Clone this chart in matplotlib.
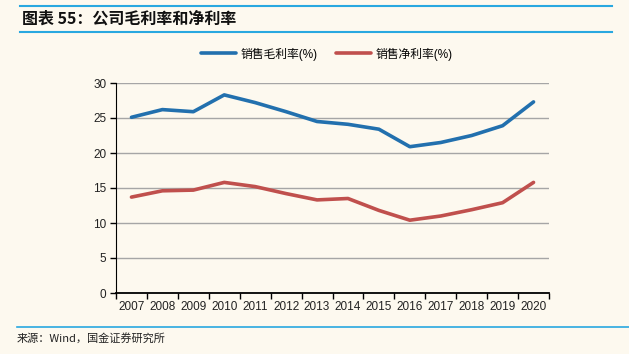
import matplotlib
matplotlib.use("Agg")
import matplotlib.pyplot as plt
import numpy as np

plt.rcParams['font.family'] = ['Liberation Sans', 'Noto Sans CJK SC', 'DejaVu Sans']

years = ['2007', '2008', '2009', '2010', '2011', '2012', '2013', '2014',
         '2015', '2016', '2017', '2018', '2019', '2020']
gross_margin = [25.1, 26.2, 25.9, 28.3, 27.2, 25.9, 24.5, 24.1, 23.4, 20.9, 21.5, 22.5, 23.9, 27.3]
net_margin = [13.7, 14.6, 14.7, 15.8, 15.2, 14.2, 13.3, 13.5, 11.8, 10.4, 11.0, 11.9, 12.9, 15.8]
series_names = ['销售毛利率(%)', '销售净利率(%)']
title = '图表 55：公司毛利率和净利率'
source = '来源：Wind，国金证券研究所'

bg = '#FDF9EF'
W, H = 629, 354
fig = plt.figure(figsize=(W / 100, H / 100), dpi=100, facecolor=bg)

ax = fig.add_axes([116 / W, 1 - 293 / H, (549 - 116) / W, (293 - 83) / H], facecolor=bg)
x = np.arange(len(years))
l1, = ax.plot(x, gross_margin, color='#2270AE', lw=2.6, solid_capstyle='round')
l2, = ax.plot(x, net_margin, color='#C0504D', lw=2.6, solid_capstyle='round')

ax.set_xlim(-0.5, len(years) - 0.5)
ax.set_ylim(0, 30)
ax.set_yticks(range(0, 31, 5))
ax.yaxis.grid(True, color='#A6A6A6', lw=1)
ax.set_axisbelow(True)
ax.set_xticks(x)
ax.set_xticklabels(years, fontsize=8.5, color='#222222')
ax.set_xticks(np.arange(-0.5, len(years), 1), minor=True)
ax.tick_params(axis='x', which='major', length=0, pad=6)
ax.tick_params(axis='x', which='minor', length=4, width=1, direction='out')
ax.tick_params(axis='y', length=4, width=1, direction='out', labelsize=8.5, labelcolor='#222222', pad=3)
for s in ['top', 'right']:
    ax.spines[s].set_visible(False)
ax.spines['left'].set_color('black')
ax.spines['bottom'].set_color('black')
ax.spines['bottom'].set_linewidth(1.3)

leg = fig.legend([l1, l2], series_names, loc='center', bbox_to_anchor=(327 / W, 1 - 54 / H),
                 ncol=2, frameon=False, handlelength=2.9, columnspacing=1.6,
                 handletextpad=0.4,
                 prop={'family': ['Liberation Sans', 'Noto Sans CJK SC', 'DejaVu Sans'], 'size': 8.5})

# header / footer rules
fig.add_artist(plt.Line2D([20 / W, 612 / W], [1 - 6 / H, 1 - 6 / H], color='#29A8E0', lw=1.5))
fig.add_artist(plt.Line2D([20 / W, 612 / W], [1 - 32 / H, 1 - 32 / H], color='#29A8E0', lw=1.5))
fig.add_artist(plt.Line2D([17 / W, 1.0], [1 - 327 / H, 1 - 327 / H], color='#29A8E0', lw=1.2))

fig.text(22 / W, 1 - 19 / H, title, fontsize=11.5, fontweight='bold', fontstyle='italic',
         va='center', ha='left', family=['Noto Sans CJK SC', 'DejaVu Sans'], color='#111111')
fig.text(17 / W, 1 - 338 / H, source, fontsize=8, va='center', ha='left',
         family=['Noto Sans CJK SC', 'DejaVu Sans'], color='#222222')

fig.savefig('out.png', dpi=100, facecolor=bg)
